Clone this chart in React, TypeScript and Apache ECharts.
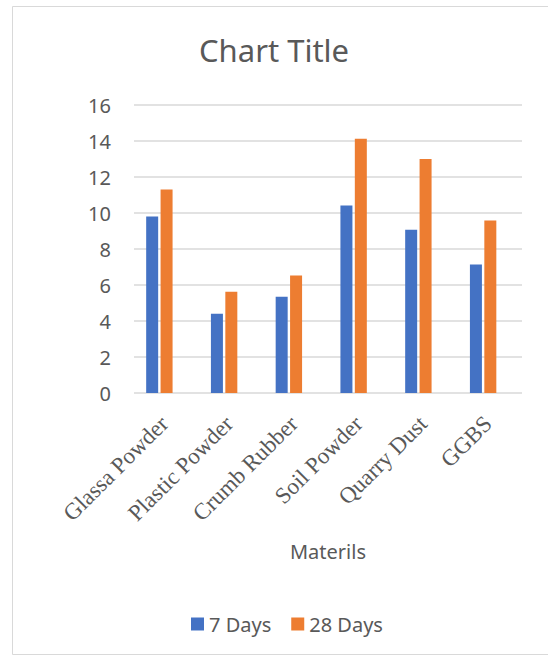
import React, { useEffect, useRef } from "react";
import * as echarts from "echarts";

const categories = ["Glassa Powder", "Plastic Powder", "Crumb Rubber", "Soil Powder", "Quarry Dust", "GGBS"];
const days7 = [9.8, 4.4, 5.35, 10.42, 9.07, 7.14];
const days28 = [11.3, 5.62, 6.53, 14.13, 13.0, 9.59];
const seriesNames = ["7 Days", "28 Days"];
const yTicks = { min: 0, max: 16, interval: 2 };

export default function App() {
  const ref = useRef<HTMLDivElement>(null);
  useEffect(() => {
    if (!ref.current) return;
    const chart = echarts.init(ref.current, null, { renderer: "svg" });
    const gray = "#595959";
    chart.setOption({
      animation: false,
      backgroundColor: "#ffffff",
      title: {
        text: "Chart Title",
        left: 194,
        top: 29,
        textStyle: { fontFamily: "Noto Sans", fontSize: 31, fontWeight: "normal", color: gray },
      },
      graphic: [
        {
          type: "rect",
          shape: { x: 12.5, y: 6.5, width: 560, height: 648 },
          style: { fill: "none", stroke: "#D9D9D9", lineWidth: 1 },
          silent: true,
        },
        {
          type: "text",
          x: 328,
          y: 551,
          style: {
            text: "Materils",
            fontFamily: "Noto Sans",
            fontSize: 20,
            fill: gray,
            align: "center",
            verticalAlign: "middle",
          },
        },
      ],
      legend: {
        data: seriesNames,
        left: 186,
        top: 609,
        icon: "rect",
        itemWidth: 13,
        itemHeight: 13,
        itemGap: 20,
        textStyle: { fontFamily: "Noto Sans", fontSize: 20, color: gray },
      },
      grid: [
        { left: 134, top: 105, width: 388, height: 288 },
        { left: 127, top: 105, width: 388.5, height: 288 },
      ],
      xAxis: [
        { gridIndex: 0, type: "category", data: categories, show: false },
        {
          gridIndex: 1,
          type: "category",
          data: categories,
          axisLine: { show: false },
          axisTick: { show: false },
          axisLabel: {
            rotate: 45,
            interval: 0,
            margin: 22,
            verticalAlign: "top",
            lineHeight: 14,
            fontFamily: "Liberation Serif",
            fontSize: 23,
            color: gray,
          },
        },
      ],
      yAxis: [
        {
          gridIndex: 0,
          type: "value",
          min: yTicks.min,
          max: yTicks.max,
          interval: yTicks.interval,
          axisLine: { show: false },
          axisTick: { show: false },
          axisLabel: { margin: 23, fontFamily: "Noto Sans", fontSize: 20, color: gray },
          splitLine: { lineStyle: { color: "#D9D9D9", width: 1.5 } },
        },
        {
          gridIndex: 1,
          type: "value",
          min: yTicks.min,
          max: yTicks.max,
          interval: yTicks.interval,
          show: false,
          splitLine: { show: false },
        },
      ],
      series: [
        {
          name: seriesNames[0],
          type: "bar",
          xAxisIndex: 1,
          yAxisIndex: 1,
          data: days7,
          barWidth: 12,
          barGap: "20%",
          itemStyle: { color: "#4472C4" },
        },
        {
          name: seriesNames[1],
          type: "bar",
          xAxisIndex: 1,
          yAxisIndex: 1,
          data: days28,
          barWidth: 12,
          barGap: "20%",
          itemStyle: { color: "#ED7D31" },
        },
      ],
    });
    return () => chart.dispose();
  }, []);
  return (
    <div
      ref={ref}
      style={{ position: "fixed", left: 0, top: 0, width: 548, height: 657 }}
    />
  );
}
